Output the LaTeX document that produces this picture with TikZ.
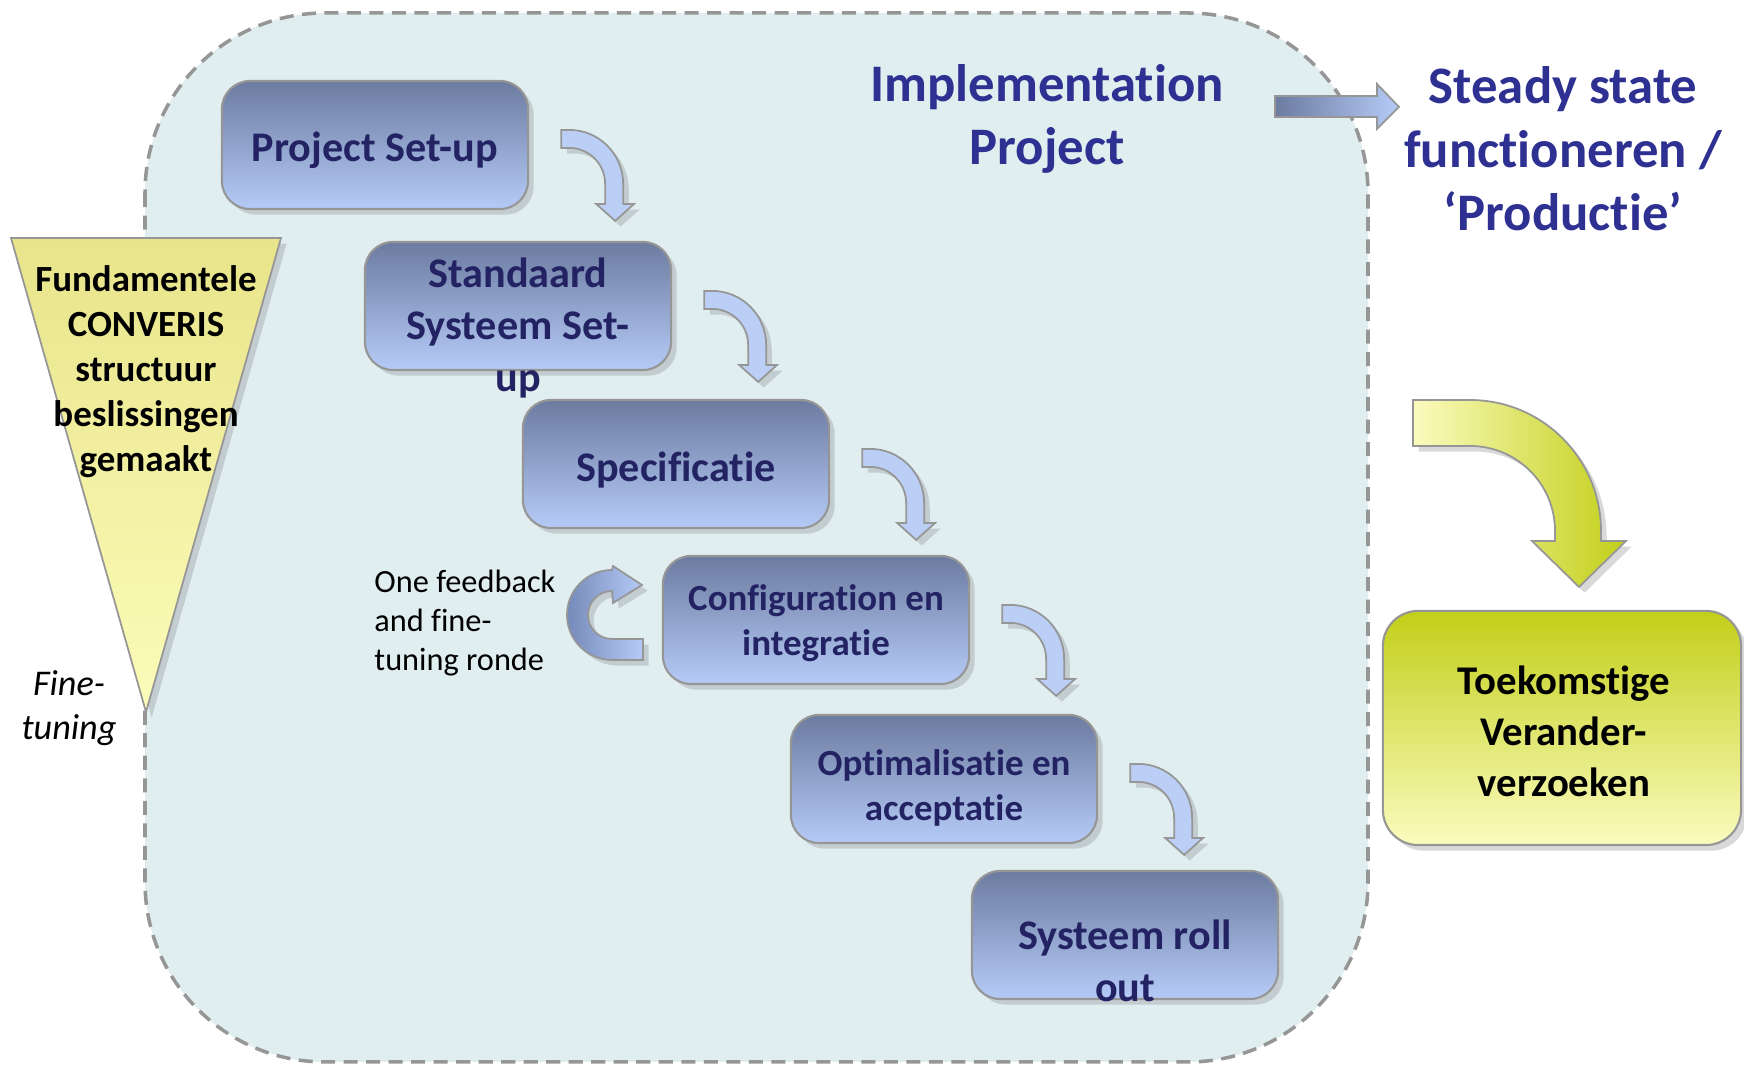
\documentclass[tikz,border=0pt]{standalone}
\usepackage{fontspec}
\setmainfont{Carlito}[Ligatures={NoCommon}]
\usetikzlibrary{shadows,calc}

\definecolor{phasetop}{RGB}{108,123,160}
\definecolor{phasebot}{RGB}{181,203,247}
\definecolor{phaseink}{RGB}{35,35,100}
\definecolor{headink}{RGB}{46,49,146}
\definecolor{stepfill}{RGB}{187,207,246}
\definecolor{loopleft}{RGB}{118,138,186}
\definecolor{projbg}{RGB}{225,238,240}
\definecolor{frame}{RGB}{150,150,150}
\definecolor{funneltop}{RGB}{232,228,138}
\definecolor{funnelbot}{RGB}{252,252,186}
\definecolor{limetop}{RGB}{194,207,24}
\definecolor{limebot}{RGB}{251,251,190}

\tikzset{
  softshadow/.style={drop shadow={shadow xshift=1.6pt, shadow yshift=-1.6pt, opacity=0.3}},
  phase/.style={draw=frame, line width=0.6pt, rounded corners=8pt,
    top color=phasetop, bottom color=phasebot,
    minimum width=3.06cm, minimum height=1.28cm, softshadow},
  phasetext/.style={text=phaseink, align=center, font=\bfseries\fontsize{12}{14.8}\selectfont},
  phasesmall/.style={phasetext, font=\bfseries\fontsize{10.5}{12.7}\selectfont},
  headtext/.style={text=headink, align=center, font=\bfseries\fontsize{15}{18}\selectfont},
  steparrow/.pic={
    \draw[draw=frame, line width=0.5pt, fill=stepfill, softshadow]
      (0,0) -- (8,0) arc[start angle=90, end angle=0, radius=54] -- (62,-74)
      -- (73,-74) -- (54,-91) -- (35,-74) -- (44,-74) -- (44,-54)
      arc[start angle=0, end angle=90, radius=36] -- (0,-18) -- cycle;
  }
}

\begin{document}
\begin{tikzpicture}[x=0.01cm, y=0.01cm]
  \useasboundingbox (0,0) rectangle (1744,-1065);

  % project area
  \draw[draw=frame, line width=1pt, dash pattern=on 4pt off 2.4pt, fill=projbg,
    rounded corners=1.8cm] (145,-13) rectangle (1368,-1062);

  % funnel
  \draw[draw=frame, line width=0.5pt, top color=funneltop, bottom color=funnelbot, softshadow]
    (11,-238) -- (281,-238) -- (146,-712) -- cycle;
  \node[align=center, font=\bfseries\fontsize{10.5}{12.8}\selectfont] (funnel) at (146,-372)
    {Fundamentele\\CONVERIS\\structuur\\beslissingen\\gemaakt};
  \node[align=center, font=\itshape\fontsize{10.3}{12.7}\selectfont] (fine) at (69,-708) {Fine-\\tuning};

  % phases
  \node[phase] (setup) at (375,-145) {};
  \node[phase] (standard) at (518,-306) {};
  \node[phase] (spec) at (676,-464) {};
  \node[phase] (config) at (816,-620) {};
  \node[phase] (optim) at (944,-779) {};
  \node[phase] (rollout) at (1125,-935) {};

  \node[phasetext] (setup-t) at ($(setup)+(0,-5)$) {Project Set-up};
  \node[phasetext] (standard-t) at ($(standard)+(0,-22)$) {Standaard\\Systeem Set-\\up};
  \node[phasetext] (spec-t) at ($(spec)+(0,-6)$) {Specificatie};
  \node[phasesmall] (config-t) at ($(config)+(0,-3)$) {Configuration en\\integratie};
  \node[phasesmall] (optim-t) at ($(optim)+(0,-9)$) {Optimalisatie en\\acceptatie};
  \node[phasetext] (rollout-t) at ($(rollout)+(0,-26)$) {Systeem roll\\out};

  \foreach \a in {setup,standard,spec,config,optim}
    \pic at ($(\a.north east)+(32,-50)$) {steparrow};

  % feedback loop
  \draw[draw=frame, line width=0.5pt, left color=loopleft, right color=phasebot, softshadow]
    (643,-639) -- (612,-639) arc[start angle=270, end angle=90, radius=24]
    -- (613,-603) -- (642,-585) -- (613,-566) -- (612,-570)
    arc[start angle=90, end angle=270, radius=45] -- (643,-660) -- cycle;
  \node[anchor=west, align=left, font=\fontsize{9.2}{11}\selectfont] (loop) at (362,-623)
    {One feedback\\and fine-\\tuning ronde};

  % headings
  \node[headtext] (impl) at (1047,-119) {Implementation\\Project};
  \node[headtext] (steady) at (1563,-149) {Steady state\\functioneren /\\‘Productie’};
  \draw[draw=frame, line width=0.5pt, left color=phasetop, right color=phasebot]
    (1275,-96) -- (1377,-96) -- (1377,-84) -- (1399,-107) -- (1377,-129)
    -- (1377,-117) -- (1275,-117) -- cycle;

  % future changes
  \draw[draw=frame, line width=0.5pt, left color=limebot, right color=limetop, softshadow]
    (1413,-400) -- (1470,-400) arc[start angle=90, end angle=0, radius=131]
    -- (1601,-541) -- (1626,-541) -- (1579,-587) -- (1532,-541) -- (1555,-541)
    -- (1555,-531) arc[start angle=0, end angle=90, radius=85] -- (1413,-446) -- cycle;
  \node[draw=frame, line width=0.6pt, rounded corners=10pt, top color=limetop, bottom color=limebot,
    minimum width=3.58cm, minimum height=2.34cm, softshadow] (change) at (1562,-728) {};
  \node[align=center, font=\bfseries\fontsize{11.6}{14.5}\selectfont] (change-t) at (1564,-731)
    {Toekomstige\\Verander-\\verzoeken};
\end{tikzpicture}
\end{document}
